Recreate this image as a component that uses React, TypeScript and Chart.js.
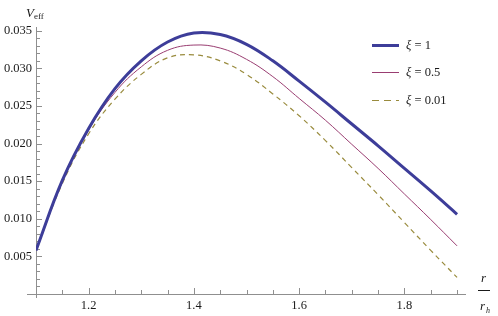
import React, { useEffect, useRef } from "react";
import { Chart, registerables } from "chart.js";

Chart.register(...registerables);

// r / r_h sample positions
const R = [1.1, 1.15, 1.2, 1.25, 1.3, 1.35, 1.4, 1.45, 1.5, 1.55, 1.6, 1.65, 1.7, 1.75, 1.8, 1.85, 1.9];
// V_eff for xi = 1
const XI_1 = [0.0058, 0.0151, 0.0220, 0.0273, 0.0310, 0.0335, 0.0347, 0.0345, 0.0332, 0.0310, 0.0283, 0.0255, 0.0226, 0.0197, 0.0167, 0.0137, 0.0106];
// V_eff for xi = 0.5
const XI_05 = [0.0058, 0.0149, 0.0218, 0.0268, 0.0302, 0.0324, 0.0331, 0.0327, 0.0312, 0.0289, 0.0260, 0.0231, 0.0199, 0.0167, 0.0133, 0.0099, 0.0064];
// V_eff for xi = 0.01
const XI_001 = [0.0058, 0.0147, 0.0213, 0.0259, 0.0292, 0.0314, 0.0318, 0.0310, 0.0292, 0.0266, 0.0237, 0.0204, 0.0168, 0.0132, 0.0095, 0.0058, 0.0022];

const SERIES_LABELS = ["1", "0.5", "0.01"];
const X_TICKS = [1.2, 1.4, 1.6, 1.8];
const Y_TICKS = [0.005, 0.01, 0.015, 0.02, 0.025, 0.03, 0.035];

const X_MIN = 1.1;
const X_MAX = 1.917;
const Y_MIN = 0;
const Y_MAX = 0.0355;

const COLORS = ["#3d3d99", "#993d71", "#998b3d"];
const WIDTHS = [3, 1, 1.2];
const DASHES: number[][] = [[], [], [5, 4]];
const AXIS = "#8f8f8f";
const TEXT = "#1a1a1a";
const SERIF = "'Liberation Serif', 'Times New Roman', Tinos, 'Nimbus Roman', serif";

const decorPlugin = {
  id: "decor",
  beforeDatasetsDraw(chart: any) {
    const ctx = chart.ctx;
    const xs = chart.scales.x;
    const ys = chart.scales.y;
    const x0 = xs.getPixelForValue(X_MIN);
    const y0 = ys.getPixelForValue(0);
    ctx.save();
    ctx.strokeStyle = AXIS;
    ctx.lineWidth = 1;
    ctx.beginPath();
    ctx.moveTo(x0 - 9, Math.round(y0) + 0.5);
    ctx.lineTo(chart.chartArea.right, Math.round(y0) + 0.5);
    ctx.moveTo(Math.round(x0) + 0.5, y0 + 4);
    ctx.lineTo(Math.round(x0) + 0.5, chart.chartArea.top);
    ctx.stroke();
    ctx.beginPath();
    for (let k = 1; k <= 16; k++) {
      const v = X_MIN + k * 0.05;
      const px = Math.round(xs.getPixelForValue(v)) + 0.5;
      const major = X_TICKS.some((t) => Math.abs(t - v) < 1e-6);
      const len = major ? 6 : 4;
      ctx.moveTo(px, Math.round(y0));
      ctx.lineTo(px, Math.round(y0) - len);
    }
    for (let k = 1; k <= 35; k++) {
      const v = k * 0.001;
      const py = Math.round(ys.getPixelForValue(v)) + 0.5;
      const major = k % 5 === 0;
      const len = major ? 6 : 4;
      ctx.moveTo(Math.round(x0), py);
      ctx.lineTo(Math.round(x0) + len, py);
    }
    ctx.stroke();
    ctx.restore();
  },
  afterDraw(chart: any) {
    const ctx = chart.ctx;
    ctx.save();
    ctx.fillStyle = TEXT;
    ctx.textBaseline = "alphabetic";
    ctx.textAlign = "left";
    // y axis title V_eff
    ctx.font = `italic 13px ${SERIF}`;
    ctx.fillText("V", 26, 17);
    ctx.font = `9px ${SERIF}`;
    ctx.fillText("eff", 34, 19);
    // x axis title r / r_h
    ctx.font = `italic 13px ${SERIF}`;
    ctx.fillText("r", 481, 282);
    ctx.strokeStyle = TEXT;
    ctx.lineWidth = 1;
    ctx.beginPath();
    ctx.moveTo(478, 290.5);
    ctx.lineTo(490, 290.5);
    ctx.stroke();
    ctx.fillText("r", 480, 310);
    ctx.font = `italic 8px ${SERIF}`;
    ctx.fillText("h", 486, 313);
    // legend
    const rows = [45, 72, 100];
    for (let i = 0; i < 3; i++) {
      const y = rows[i] + 0.5;
      ctx.save();
      ctx.strokeStyle = COLORS[i];
      ctx.lineWidth = WIDTHS[i];
      ctx.setLineDash(DASHES[i].length ? [7, 5] : []);
      ctx.beginPath();
      ctx.moveTo(372, y);
      ctx.lineTo(399, y);
      ctx.stroke();
      ctx.restore();
      ctx.fillStyle = TEXT;
      ctx.textBaseline = "middle";
      ctx.font = `italic 12.5px ${SERIF}`;
      ctx.fillText("\u03be", 406, y);
      const w = ctx.measureText("\u03be").width;
      ctx.font = `12.5px ${SERIF}`;
      ctx.fillText(" = " + SERIES_LABELS[i], 406 + w, y);
    }
    ctx.restore();
  },
};

export default function App() {
  const ref = useRef<HTMLCanvasElement | null>(null);
  useEffect(() => {
    if (!ref.current) return;
    const seriesValues = [XI_1, XI_05, XI_001];
    const chart = new Chart(ref.current, {
      type: "line",
      data: {
        datasets: seriesValues.map((vals, i) => ({
          label: "\u03be = " + SERIES_LABELS[i],
          data: R.map((r, j) => ({ x: r, y: vals[j] })),
          borderColor: COLORS[i],
          borderWidth: WIDTHS[i],
          borderDash: DASHES[i],
          pointRadius: 0,
          fill: false,
          tension: 0.4,
        })),
      },
      options: {
        animation: false,
        responsive: false,
        layout: { padding: { top: 27, right: 32, left: 0, bottom: 0 } },
        plugins: { legend: { display: false }, tooltip: { enabled: false } },
        scales: {
          x: {
            type: "linear",
            min: X_MIN,
            max: X_MAX,
            grid: { display: false, drawTicks: false },
            border: { display: false },
            afterBuildTicks: (s: any) => {
              s.ticks = X_TICKS.map((v) => ({ value: v }));
            },
            afterFit: (s: any) => {
              s.height = 22;
            },
            ticks: {
              padding: 4,
              color: TEXT,
              maxRotation: 0,
              font: { family: SERIF, size: 12.5 },
              callback: (v: any) => Number(v).toFixed(1),
            },
          },
          y: {
            type: "linear",
            min: Y_MIN,
            max: Y_MAX,
            grid: { display: false, drawTicks: false },
            border: { display: false },
            afterBuildTicks: (s: any) => {
              s.ticks = Y_TICKS.map((v) => ({ value: v }));
            },
            afterFit: (s: any) => {
              s.width = 36;
            },
            ticks: {
              padding: 4,
              color: TEXT,
              font: { family: SERIF, size: 12.5 },
              callback: (v: any) => Number(v).toFixed(3),
            },
          },
        },
      },
      plugins: [decorPlugin],
    });
    return () => chart.destroy();
  }, []);
  return (
    <div style={{ position: "absolute", left: 0, top: 0, width: 498, height: 316, background: "#fff" }}>
      <canvas ref={ref} width={498} height={316} />
    </div>
  );
}
